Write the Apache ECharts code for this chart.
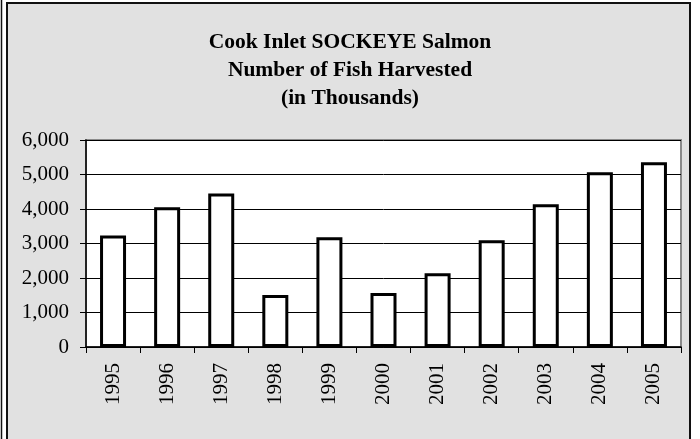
<!DOCTYPE html>
<html>
<head>
<meta charset="utf-8">
<script src="https://cdn.jsdelivr.net/npm/echarts@6/dist/echarts.min.js"></script>
<style>html,body{margin:0;padding:0;background:#fff;}#c{width:700px;height:439px;}</style>
</head>
<body>
<div id="c"></div>
<script>
const years = ['1995','1996','1997','1998','1999','2000','2001','2002','2003','2004','2005'];
const harvest = [3230, 4050, 4450, 1510, 3180, 1565, 2140, 3095, 4135, 5065, 5355];
const titleLines = ['Cook Inlet SOCKEYE Salmon', 'Number of Fish Harvested', '(in Thousands)'];
const yMin = 0, yMax = 6000, yStep = 1000;

const chart = echarts.init(document.getElementById('c'), null, {renderer: 'canvas'});
chart.setOption({
  backgroundColor: '#ffffff',
  animation: false,
  graphic: [
    {type: 'rect', z: -10, shape: {x: 7, y: 3, width: 683, height: 470},
     style: {fill: '#e1e1e1', stroke: '#111', lineWidth: 2}},
    {type: 'line', z: -10, shape: {x1: 1.5, y1: 0, x2: 1.5, y2: 439},
     style: {stroke: '#111', lineWidth: 1.5}}
  ],
  title: {
    text: titleLines.join('\n'),
    left: 'center',
    top: 23,
    textStyle: {fontFamily: 'Liberation Serif', fontWeight: 'bold', fontSize: 21.5, lineHeight: 28, color: '#000'}
  },
  grid: {
    left: 86, top: 140, right: 19, bottom: 92,
    show: true, backgroundColor: '#ffffff', borderColor: '#8a8a8a', borderWidth: 2
  },
  xAxis: {
    type: 'category',
    data: years,
    axisLine: {lineStyle: {color: '#000', width: 1.5}},
    axisTick: {show: true, length: 6, lineStyle: {color: '#000'}},
    axisLabel: {rotate: 90, margin: 16, fontFamily: 'Liberation Serif', fontSize: 21, color: '#000'}
  },
  yAxis: {
    type: 'value',
    min: yMin, max: yMax, interval: yStep,
    axisLine: {show: true, lineStyle: {color: '#000', width: 1.5}},
    axisTick: {show: true, length: 6, lineStyle: {color: '#000'}},
    splitLine: {lineStyle: {color: '#000', width: 1}},
    axisLabel: {margin: 17, fontFamily: 'Liberation Serif', fontSize: 21, color: '#000',
      formatter: v => v.toLocaleString('en-US')}
  },
  series: [{
    type: 'bar',
    data: harvest,
    barWidth: 26,
    itemStyle: {color: '#ffffff', borderColor: '#000', borderWidth: 3}
  }]
});
</script>
</body>
</html>
